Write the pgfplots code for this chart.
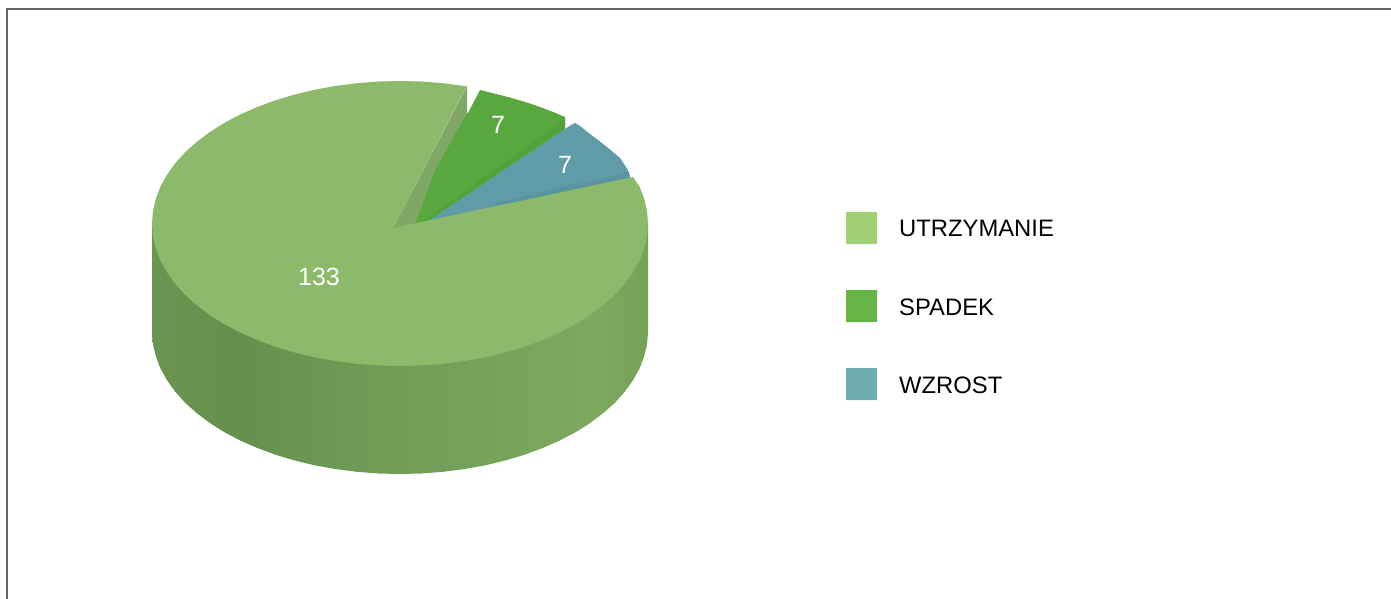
\documentclass[border=0pt]{standalone}
\usepackage{fontspec}
\setmainfont{Liberation Sans}
\usepackage{pgfplots}
\pgfplotsset{compat=1.18}

\definecolor{topbig}{HTML}{8DB96B}
\definecolor{wall}{HTML}{80A765}
\definecolor{topdown}{HTML}{58A83D}
\definecolor{edgedown}{HTML}{52A13A}
\definecolor{topup}{HTML}{5F9CA8}
\definecolor{edgeup}{HTML}{5A949F}
\definecolor{legbig}{HTML}{9FD076}
\definecolor{legdown}{HTML}{66B446}
\definecolor{legup}{HTML}{6FADB4}
\definecolor{framec}{HTML}{666666}

% side of the drum, stops are at 25bp..75bp of the shading
\pgfdeclarehorizontalshading{sidegrad}{100bp}{
  rgb(0bp)=(0.41,0.585,0.31);
  rgb(25bp)=(0.41,0.585,0.31);
  rgb(34bp)=(0.395,0.565,0.30);
  rgb(50bp)=(0.44,0.62,0.34);
  rgb(70bp)=(0.49,0.66,0.37);
  rgb(75bp)=(0.46,0.635,0.34);
  rgb(100bp)=(0.46,0.635,0.34)}

\begin{document}
\begin{tikzpicture}
\begin{axis}[
  scale only axis,
  width=1391pt, height=599pt,
  xmin=0, xmax=1391,
  ymin=0, ymax=599,
  y dir=reverse,
  hide axis,
  clip=true,
]
% white page, fixes the picture's extent
\addplot[draw=none, fill=white] coordinates {(0,0) (1391,0) (1391,599) (0,599) (0,0)};
% drum side
\addplot[draw=none, shading=sidegrad] coordinates {
  (152,223.5) (152,331.5) (152.9,343.9) (155.8,356.2) (160.4,368.4) (167,380.2)
  (175.2,391.7) (185.2,402.8) (196.8,413.2) (210,423.1) (224.6,432.3) (240.6,440.7)
  (257.8,448.2) (276,454.9) (295.2,460.6) (315.2,465.4) (335.8,469.1) (356.9,471.8)
  (378.4,473.5) (400,474) (421.6,473.5) (443.1,471.8) (464.2,469.1) (484.8,465.4)
  (504.8,460.6) (524,454.9) (542.2,448.2) (559.4,440.7) (575.4,432.3) (590,423.1)
  (603.2,413.2) (614.8,402.8) (624.8,391.7) (633,380.2) (639.6,368.4) (644.2,356.2)
  (647.1,343.9) (648,331.5) (648,223.5) (152,223.5)};
% SPADEK slice (left edge runs under the wall)
\addplot[draw=none, fill=topdown] coordinates {
  (410,226) (428,170) (460,113) (468,113) (480,90) (490,92.5) (500,95) (510,97.5) (520,100.5)
  (530,103.5) (540,107) (553,112) (565,117) (565,129) (427,222) (410,226)};
\addplot[draw=none, fill=edgedown] coordinates {
  (565,119) (565,129) (427,222) (424,221) (565,119)};
% WZROST slice
\addplot[draw=none, fill=topup] coordinates {
  (427,222) (571,125) (575,123) (580,126) (590,134) (598,140) (607,147) (620,158)
  (628,170) (630,178) (427,222)};
\addplot[draw=none, fill=edgeup] coordinates {
  (629,172) (630,178) (500,207) (495,203) (629,172)};
% inner wall of the big slice
\addplot[draw=none, fill=wall] coordinates {
  (393,228) (467,86) (467,113) (435,170) (415,224) (393,228)};
% UTRZYMANIE top
\addplot[draw=none, fill=topbig] coordinates {
  (393,228) (466.5,86.3) (443.1,83.2) (421.6,81.5) (400,81) (378.4,81.5) (356.9,83.2)
  (335.8,85.9) (315.2,89.6) (295.2,94.4) (276,100.1) (257.8,106.8) (240.6,114.3)
  (224.6,122.7) (210,131.9) (196.8,141.8) (185.2,152.2) (175.2,163.3) (167,174.8)
  (160.4,186.6) (155.8,198.8) (152.9,211.1) (152,223.5) (152.9,235.9) (155.8,248.2)
  (160.4,260.4) (167,272.2) (175.2,283.7) (185.2,294.8) (196.8,305.2) (210,315.1)
  (224.6,324.3) (240.6,332.7) (257.8,340.2) (276,346.9) (295.2,352.6) (315.2,357.4)
  (335.8,361.1) (356.9,363.8) (378.4,365.5) (400,366) (421.6,365.5) (443.1,363.8)
  (464.2,361.1) (484.8,357.4) (504.8,352.6) (524,346.9) (542.2,340.2) (559.4,332.7)
  (575.4,324.3) (590,315.1) (603.2,305.2) (614.8,294.8) (624.8,283.7) (633,272.2)
  (639.6,260.4) (644.2,248.2) (647.1,235.9) (648,223.5) (647.1,211.1) (644.2,198.8)
  (639.6,186.6) (633,177) (393,228)};
% legend swatches
\addplot[draw=none, fill=legbig] coordinates {(846,212) (877,212) (877,244) (846,244) (846,212)};
\addplot[draw=none, fill=legdown] coordinates {(846,290) (877,290) (877,322) (846,322) (846,290)};
\addplot[draw=none, fill=legup] coordinates {(846,368) (877,368) (877,400) (846,400) (846,368)};
% outer frame
\draw[framec, line width=1.5pt] (axis cs:7,599) -- (axis cs:7,9) -- (axis cs:1391,9);
% value labels
\node[white, font=\fontsize{25}{30}\selectfont] at (axis cs:319,277) {133};
\node[white, font=\fontsize{25}{30}\selectfont] at (axis cs:498,125) {7};
\node[white, font=\fontsize{25}{30}\selectfont] at (axis cs:565,165) {7};
% legend text
\node[anchor=west, inner sep=0pt, font=\fontsize{23.8}{28}\selectfont] at (axis cs:899,228) {UTRZYMANIE};
\node[anchor=west, inner sep=0pt, font=\fontsize{23.8}{28}\selectfont] at (axis cs:899,307) {SPADEK};
\node[anchor=west, inner sep=0pt, font=\fontsize{23.8}{28}\selectfont] at (axis cs:899,385) {WZROST};
\end{axis}
\end{tikzpicture}
\end{document}
